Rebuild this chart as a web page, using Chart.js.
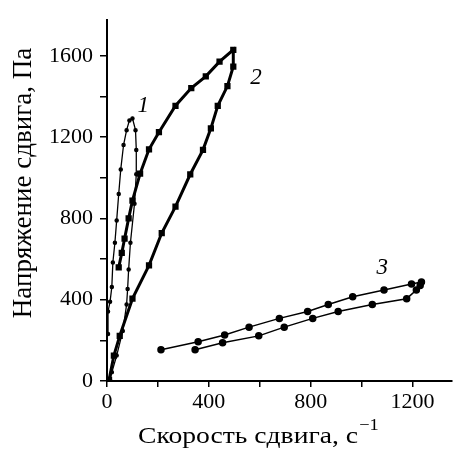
<!DOCTYPE html>
<html>
<head>
<meta charset="utf-8">
<script src="https://cdn.jsdelivr.net/npm/chart.js@4/dist/chart.umd.min.js"></script>
<style>
html,body{margin:0;padding:0;background:#fff}
</style>
</head>
<body>
<canvas id="chart" width="459" height="449"></canvas>
<script>
// curve 1 - up branch then down branch
var curve1X = [4, 4, 12, 19, 23, 31, 38, 46, 54, 65, 77, 88, 100, 112, 115, 115, 108, 92, 85, 81, 77, 62, 38, 19, 12];
var curve1Y = [231, 342, 390, 463, 583, 680, 790, 920, 1041, 1161, 1234, 1282, 1292, 1234, 1137, 1017, 872, 680, 549, 453, 376, 246, 125, 43, 5];

// curve 2 - upper branch (from square at 46) then return to origin
var curve2X = [46, 58, 69, 85, 100, 130, 165, 204, 269, 331, 388, 442, 496, 496, 473, 435, 408, 377, 327, 269, 215, 165, 100, 50, 27, 8];
var curve2Y = [559, 630, 700, 800, 887, 1020, 1140, 1224, 1354, 1441, 1499, 1571, 1629, 1547, 1451, 1354, 1243, 1137, 1017, 858, 728, 569, 405, 222, 125, 5];

// curve 3
var curve3X = [212, 358, 462, 558, 677, 788, 869, 965, 1088, 1196, 1235, 1230, 1215, 1177, 1042, 908, 808, 696, 596, 454, 346];
var curve3Y = [154, 193, 226, 265, 308, 342, 376, 414, 448, 477, 487, 470, 448, 405, 376, 342, 308, 265, 222, 188, 154];

var xTicks = [0, 200, 400, 600, 800, 1000, 1200];
var yTicks = [0, 200, 400, 600, 800, 1000, 1200, 1400, 1600];
var labelEvery = 400;

var curveLabels = ['1', '2', '3'];
var labelX = [142, 585, 1081];
var labelY = [1355, 1491, 555];

var xTitle = 'Скорость сдвига, с';
var xTitleSup = '\u22121';
var yTitle = 'Напряжение сдвига, Па';

function pts(xs, ys){
    var arr = [];
    for(let i=0;i<xs.length;i++){
        arr.push({x: xs[i], y: ys[i]});
    }
    return arr;
}

const serif = '"Liberation Serif", "Times New Roman", serif';

const textPlugin = {
    id: 'texts',
    afterDraw(chart){
        const ctx = chart.ctx;
        const xs = chart.scales.x, ys = chart.scales.y;
        ctx.save();
        ctx.fillStyle = '#000';
        // curve numbers
        ctx.font = 'italic 23px ' + serif;
        ctx.textAlign = 'center';
        ctx.textBaseline = 'middle';
        for(let i=0;i<curveLabels.length;i++){
            ctx.fillText(curveLabels[i], xs.getPixelForValue(labelX[i]), ys.getPixelForValue(labelY[i]));
        }
        ctx.restore();

        // x title, a bit wider than the font
        ctx.save();
        ctx.fillStyle = '#000';
        ctx.textBaseline = 'alphabetic';
        ctx.textAlign = 'left';
        ctx.font = '24px ' + serif;
        ctx.translate(138, 443);
        ctx.scale(1.15, 1);
        const w1 = ctx.measureText(xTitle).width;
        ctx.fillText(xTitle, 0, 0);
        ctx.font = '16px ' + serif;
        ctx.fillText(xTitleSup, w1 + 1, -13);
        ctx.restore();

        // y title
        ctx.save();
        ctx.fillStyle = '#000';
        ctx.font = '27px ' + serif;
        ctx.translate(31, 183);
        ctx.rotate(-Math.PI / 2);
        ctx.textAlign = 'center';
        ctx.textBaseline = 'alphabetic';
        ctx.fillText(yTitle, 0, 0);
        ctx.restore();
    }
};

function tickLabel(v){
    return v % labelEvery === 0 ? String(v) : '';
}

var ctx = document.getElementById('chart').getContext('2d');
var myChart = new Chart(ctx, {
    type: 'line',
    data: {
        datasets: [{
                label: '1',
                data: pts(curve1X, curve1Y),
                borderColor: '#000',
                backgroundColor: '#000',
                borderWidth: 1.3,
                pointRadius: 1.6,
                pointStyle: 'circle',
                tension: 0
            },
            {
                label: '2',
                data: pts(curve2X, curve2Y),
                borderColor: '#000',
                backgroundColor: '#000',
                borderWidth: 3,
                pointRadius: 2.3,
                pointStyle: 'rect',
                tension: 0
            },
            {
                label: '3',
                data: pts(curve3X, curve3Y),
                borderColor: '#000',
                backgroundColor: '#000',
                borderWidth: 1.5,
                pointRadius: 3,
                pointStyle: 'circle',
                tension: 0
            }
        ]
    },
    options: {
        responsive: false,
        animation: false,
        layout: {padding: {left: 0, right: 0, top: 13, bottom: 28}},
        plugins: {legend: {display: false}, tooltip: {enabled: false}},
        scales: {
            x: {
                type: 'linear',
                min: 0,
                max: 1355,
                afterFit: function(s){ s.height = 40; },
                afterBuildTicks: function(s){ s.ticks = xTicks.map(v => ({value: v})); },
                border: {display: true, color: '#000', width: 2},
                grid: {display: true, drawOnChartArea: false, drawTicks: true, tickLength: 6, color: '#000', lineWidth: 1.5},
                ticks: {
                    autoSkip: false,
                    maxRotation: 0,
                    padding: 2,
                    color: '#000',
                    font: {family: serif, size: 22},
                    callback: tickLabel
                }
            },
            y: {
                type: 'linear',
                min: 0,
                max: 1775,
                afterFit: function(s){ s.width = 107; },
                afterBuildTicks: function(s){ s.ticks = yTicks.map(v => ({value: v})); },
                border: {display: true, color: '#000', width: 2},
                grid: {display: true, drawOnChartArea: false, drawTicks: true, tickLength: 7, color: '#000', lineWidth: 1.5},
                ticks: {
                    autoSkip: false,
                    padding: 7,
                    color: '#000',
                    font: {family: serif, size: 22},
                    callback: tickLabel
                }
            }
        }
    },
    plugins: [textPlugin]
});
</script>
</body>
</html>
